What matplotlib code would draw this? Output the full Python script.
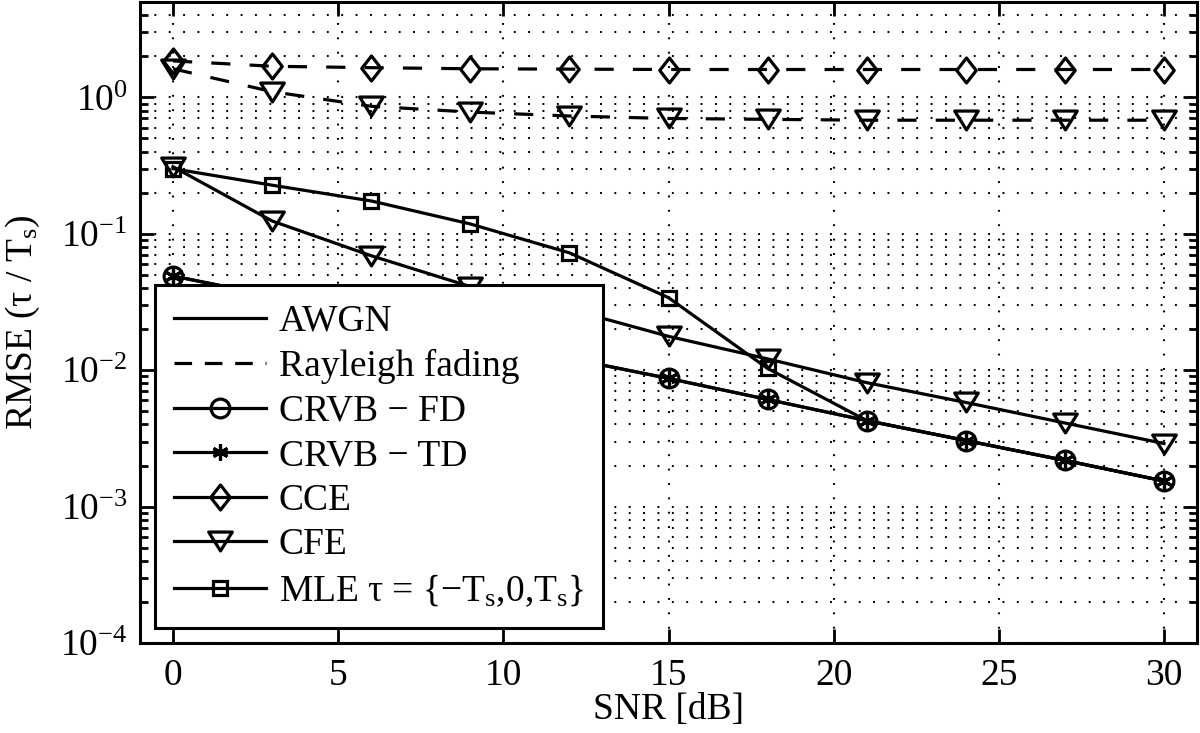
import matplotlib
matplotlib.use("Agg")
import matplotlib.pyplot as plt
from matplotlib.lines import Line2D
from matplotlib.path import Path
from matplotlib.ticker import LogLocator, NullFormatter, FixedLocator
import numpy as np

plt.rcParams['font.family'] = ['Liberation Serif', 'DejaVu Serif']
plt.rcParams['mathtext.fontset'] = 'custom'
plt.rcParams['mathtext.rm'] = 'Liberation Serif'
plt.rcParams['mathtext.it'] = 'Liberation Serif:italic'
plt.rcParams['mathtext.bf'] = 'Liberation Serif:bold'

# ---- data ----
snr = [0, 3, 6, 9, 12, 15, 18, 21, 24, 27, 30]
crvb_fd = [0.049, 0.035, 0.0245, 0.0173, 0.0122, 0.0087, 0.0061, 0.00427, 0.00305, 0.00218, 0.00154]
crvb_td = [0.049, 0.035, 0.0245, 0.0173, 0.0122, 0.0087, 0.0061, 0.00427, 0.00305, 0.00218, 0.00154]
cfe_awgn = [0.31, 0.124, 0.069, 0.041, 0.028, 0.0177, 0.0121, 0.0081, 0.0058, 0.0041, 0.0029]
mle_awgn = [0.30, 0.227, 0.174, 0.118, 0.0725, 0.034, 0.0103, 0.00427, 0.00305, 0.00218, 0.00154]
cce_ray = [1.85, 1.69, 1.65, 1.62, 1.61, 1.60, 1.60, 1.60, 1.60, 1.60, 1.60]
cfe_ray = [1.62, 1.10, 0.86, 0.78, 0.73, 0.70, 0.69, 0.68, 0.68, 0.68, 0.68]
mle_marked = 7  # squares drawn at the first 7 points

x_ticks = [0, 5, 10, 15, 20, 25, 30]

legend_labels = ['AWGN', 'Rayleigh fading', 'CRVB \u2212 FD', 'CRVB \u2212 TD', 'CCE', 'CFE',
                 'MLE \u03c4 = {\u2212T$_{\\mathregular{s}}$,0,T$_{\\mathregular{s}}$}']

# ---- styles ----
FS = 27
LW = 2.3
diamond = Path([(0, 1), (0.78, 0), (0, -1), (-0.78, 0), (0, 1)],
               [Path.MOVETO, Path.LINETO, Path.LINETO, Path.LINETO, Path.CLOSEPOLY])
tri_down = Path([(-1, 0.8), (1, 0.8), (0, -0.8), (-1, 0.8)],
                [Path.MOVETO, Path.LINETO, Path.LINETO, Path.CLOSEPOLY])
asterisk = (6, 2, 0)
MS_O, MS_STAR, MS_D, MS_V, MS_S = 13.5, 11.5, 18, 17, 10

fig = plt.figure(figsize=(12, 7.33), dpi=100)
ax = fig.add_axes([140 / 1200, 1 - 643 / 733, 1057 / 1200, 641 / 733])
ax.set_yscale('log')
ax.set_xlim(-1, 31)
ax.set_ylim(1e-4, 5)

common = dict(color='black', lw=LW, mew=LW, mfc='none', mec='black')
ax.plot(snr, cce_ray, ls=(0, (6, 6)), marker=diamond, ms=MS_D, **common)
ax.plot(snr, cfe_ray, ls=(0, (6, 6)), marker=tri_down, ms=MS_V, **common)
ax.plot(snr, mle_awgn, ls='-', marker='s', ms=MS_S, markevery=slice(0, mle_marked), **common)
ax.plot(snr, cfe_awgn, ls='-', marker=tri_down, ms=MS_V, **common)
ax.plot(snr, crvb_fd, ls='-', marker='o', ms=MS_O, **common)
ax.plot(snr, crvb_td, ls='-', marker=asterisk, ms=MS_STAR, **common)

# ticks & grid
ax.xaxis.set_major_locator(FixedLocator(x_ticks))
ax.yaxis.set_major_locator(LogLocator(base=10, numticks=20))
ax.yaxis.set_minor_locator(LogLocator(base=10, subs=np.arange(2, 10), numticks=20))
ax.yaxis.set_minor_formatter(NullFormatter())
ax.tick_params(which='both', direction='in', top=True, right=True, width=2, labelsize=FS)
ax.tick_params(which='major', length=10)
ax.tick_params(which='minor', length=6)
ax.tick_params(axis='x', pad=11)
ax.tick_params(axis='y', pad=9)
grid_ls = (0, (0.9, 6))
ax.grid(True, which='major', axis='both', color='black', lw=1.5, ls=grid_ls)
ax.grid(True, which='minor', axis='y', color='black', lw=1.5, ls=grid_ls)
ax.set_axisbelow(True)
for s in ax.spines.values():
    s.set_linewidth(2.2)

ax.set_xlabel('SNR [dB]', fontsize=FS, labelpad=0)
ax.set_ylabel('RMSE (\u03c4 / T$_{\\mathregular{s}}$)', fontsize=FS, labelpad=13)

# legend
handles = [
    Line2D([], [], color='black', lw=LW, ls='-'),
    Line2D([], [], color='black', lw=LW, ls=(0, (5.5, 4))),
    Line2D([], [], marker='o', ms=MS_O, **common),
    Line2D([], [], marker=asterisk, ms=MS_STAR, **common),
    Line2D([], [], marker=diamond, ms=MS_D, **common),
    Line2D([], [], marker=tri_down, ms=MS_V, **common),
    Line2D([], [], marker='s', ms=MS_S, **common),
]
leg = ax.legend(handles, legend_labels, loc='lower left',
                bbox_to_anchor=(15 / 1057, 15 / 641), borderaxespad=0,
                fontsize=FS, fancybox=False, framealpha=1, edgecolor='black',
                handlelength=2.45, handletextpad=0.35, labelspacing=0.27,
                borderpad=0.5)
leg.get_frame().set_linewidth(2.2)

fig.savefig('out.png', dpi=100)
